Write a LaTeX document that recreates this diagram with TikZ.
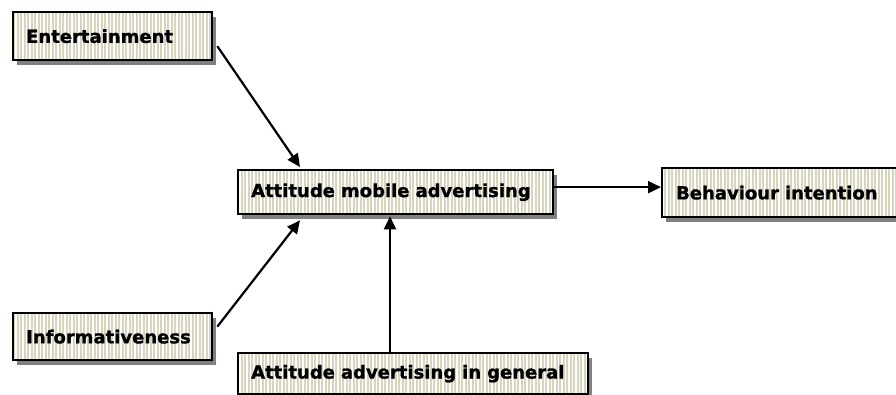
\documentclass[tikz,border=0pt]{standalone}
\usepackage{fontspec}
\setmainfont{DejaVu Sans}
\newfontfamily\boxfont{DejaVu Sans Bold}[FakeBold=1.2]
\usetikzlibrary{arrows.meta,shadows,patterns.meta}
\definecolor{stripe}{RGB}{216,212,190}
\definecolor{shade}{RGB}{128,128,128}
\begin{document}
\begin{tikzpicture}[x=1pt,y=-1pt,
  box/.style={anchor=north west, inner xsep=13pt, inner ysep=0pt, align=left,
    font=\boxfont\fontsize{18}{20}\selectfont,
    drop shadow={shadow xshift=4pt,shadow yshift=-5pt,fill=shade,opacity=1},
    preaction={fill=white},
    preaction={pattern={Lines[angle=90,distance=3.5pt,line width=2pt]},pattern color=stripe},
    draw=black, line width=2.3pt},
  arr/.style={line width=2.2pt, -{Triangle[length=13pt,width=12pt]}}]
\useasboundingbox (0,0) rectangle (896,394);
\node[box, minimum height=48pt, text width=173pt] (ent) at (12,11) {Entertainment};
\node[box, minimum height=44pt, text width=289pt] (am) at (237,169) {Attitude mobile advertising};
\node[box, minimum height=47pt, text width=173pt] (inf) at (12,312) {Informativeness};
\node[box, minimum height=41pt, text width=324pt] (gen) at (237,352) {Attitude advertising in general};
\node[box, minimum height=49pt, text width=218pt, inner xsep=14pt] (beh) at (661,167) {Behaviour intention};
\draw[arr] ([xshift=4pt,yshift=-10pt]ent.east) -- ([xshift=63pt,yshift=2pt]am.north west);
\draw[arr] ([xshift=4pt,yshift=10pt]inf.east) -- ([xshift=63pt,yshift=-5pt]am.south west);
\draw[arr] ([xshift=153pt]gen.north west) -- ([xshift=153pt,yshift=-1pt]am.south west);
\coordinate (h) at ([yshift=5pt]am.east);
\draw[arr] (h) -- (h -| beh.west);
\end{tikzpicture}
\end{document}
